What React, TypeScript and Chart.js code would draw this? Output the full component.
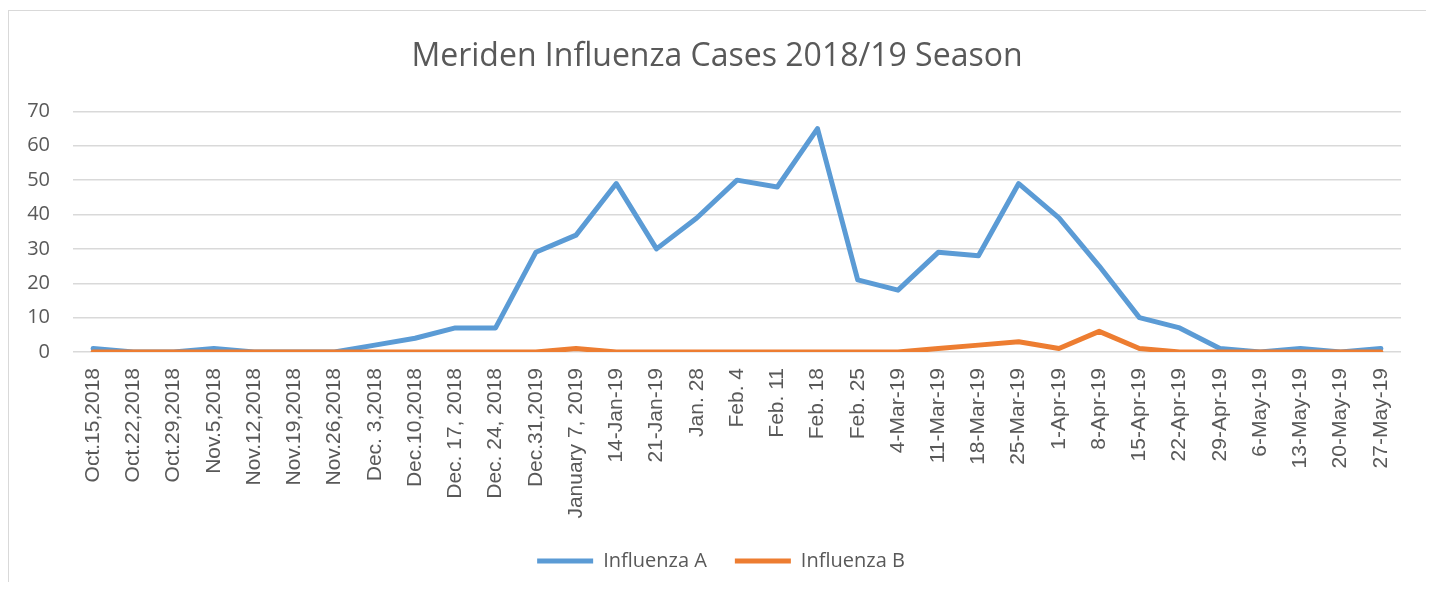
import React, { useEffect, useRef } from "react";
import { Chart, registerables } from "chart.js";

Chart.register(...registerables);

const title = "Meriden Influenza Cases 2018/19 Season";

const categories = [
  "Oct.15,2018", "Oct.22,2018", "Oct.29,2018", "Nov.5,2018", "Nov.12,2018",
  "Nov.19,2018", "Nov.26,2018", "Dec. 3,2018", "Dec.10,2018", "Dec. 17, 2018",
  "Dec. 24, 2018", "Dec.31,2019", "January 7, 2019", "14-Jan-19", "21-Jan-19",
  "Jan. 28", "Feb. 4", "Feb. 11", "Feb. 18", "Feb. 25", "4-Mar-19", "11-Mar-19",
  "18-Mar-19", "25-Mar-19", "1-Apr-19", "8-Apr-19", "15-Apr-19", "22-Apr-19",
  "29-Apr-19", "6-May-19", "13-May-19", "20-May-19", "27-May-19",
];

const influenzaA = [
  1, 0, 0, 1, 0, 0, 0, 2, 4, 7, 7, 29, 34, 49, 30, 39, 50, 48, 65, 21, 18, 29,
  28, 49, 39, 25, 10, 7, 1, 0, 1, 0, 1,
];

const influenzaB = [
  0, 0, 0, 0, 0, 0, 0, 0, 0, 0, 0, 0, 1, 0, 0, 0, 0, 0, 0, 0, 0, 1, 2, 3, 1, 6,
  1, 0, 0, 0, 0, 0, 0,
];

const yTicks = [0, 10, 20, 30, 40, 50, 60, 70];

const TEXT = "#595959";
const GRID = "#D9D9D9";

// shifts the centred title and legend a little to the right, as in the reference
const centreShift = {
  id: "centreShift",
  afterLayout(chart: any) {
    const s = 9;
    if (chart.legend) {
      chart.legend.left += s;
      chart.legend.right += s;
    }
    if (chart.titleBlock) {
      chart.titleBlock.left += 5;
      chart.titleBlock.right += 5;
    }
  },
};

export default function App() {
  const ref = useRef<HTMLCanvasElement | null>(null);

  useEffect(() => {
    if (!ref.current) return;
    const chart = new Chart(ref.current, {
      type: "line",
      data: {
        labels: categories,
        datasets: [
          {
            label: "Influenza A",
            data: influenzaA,
            borderColor: "#5B9BD5",
            backgroundColor: "#5B9BD5",
            borderWidth: 5,
            pointRadius: 0,
            pointStyle: "line",
            tension: 0,
            borderJoinStyle: "round",
            borderCapStyle: "round",
            order: 1,
          },
          {
            label: "Influenza B",
            data: influenzaB,
            borderColor: "#ED7D31",
            backgroundColor: "#ED7D31",
            borderWidth: 5,
            pointRadius: 0,
            pointStyle: "line",
            tension: 0,
            borderJoinStyle: "round",
            borderCapStyle: "round",
            order: 0,
          },
        ],
      },
      plugins: [centreShift],
      options: {
        animation: false,
        responsive: true,
        maintainAspectRatio: false,
        layout: { padding: { left: 14, right: 29, top: 0, bottom: 1 } },
        plugins: {
          tooltip: { enabled: false },
          title: {
            display: true,
            text: title,
            color: TEXT,
            font: { family: "'Open Sans'", size: 32, weight: "normal", lineHeight: 1.2 },
            padding: { top: 27, bottom: 35 },
          },
          legend: {
            position: "bottom",
            labels: {
              color: TEXT,
              font: { family: "'Open Sans'", size: 20 },
              usePointStyle: true,
              pointStyleWidth: 56,
              padding: 28,
              sort: (a: any, b: any) => a.datasetIndex - b.datasetIndex,
            },
          },
        },
        scales: {
          x: {
            offset: true,
            grid: { display: false, drawTicks: false },
            border: { display: false },
            ticks: {
              autoSkip: false,
              maxRotation: 90,
              minRotation: 90,
              padding: 16,
              color: TEXT,
              font: { family: "'Liberation Sans'", size: 21 },
            },
            afterFit: (scale: any) => {
              scale.height = 171;
            },
          },
          y: {
            min: 0,
            max: 70,
            afterBuildTicks: (scale: any) => {
              scale.ticks = yTicks.map((v) => ({ value: v }));
            },
            grid: { color: GRID, lineWidth: 1.5, drawTicks: false },
            border: { display: false },
            ticks: {
              padding: 23,
              color: TEXT,
              font: { family: "'Open Sans'", size: 20 },
            },
            afterFit: (scale: any) => {
              scale.width = 50;
            },
          },
        },
      },
    });
    return () => chart.destroy();
  }, []);

  return (
    <div style={{ paddingTop: 2 }}>
      <div
        style={{
          boxSizing: "border-box",
          width: 1423,
          height: 572,
          borderTop: `1.5px solid ${GRID}`,
          borderLeft: `1.5px solid ${GRID}`,
          borderRight: `1.5px solid ${GRID}`,
          position: "relative",
        }}
      >
        <canvas ref={ref} />
      </div>
    </div>
  );
}
